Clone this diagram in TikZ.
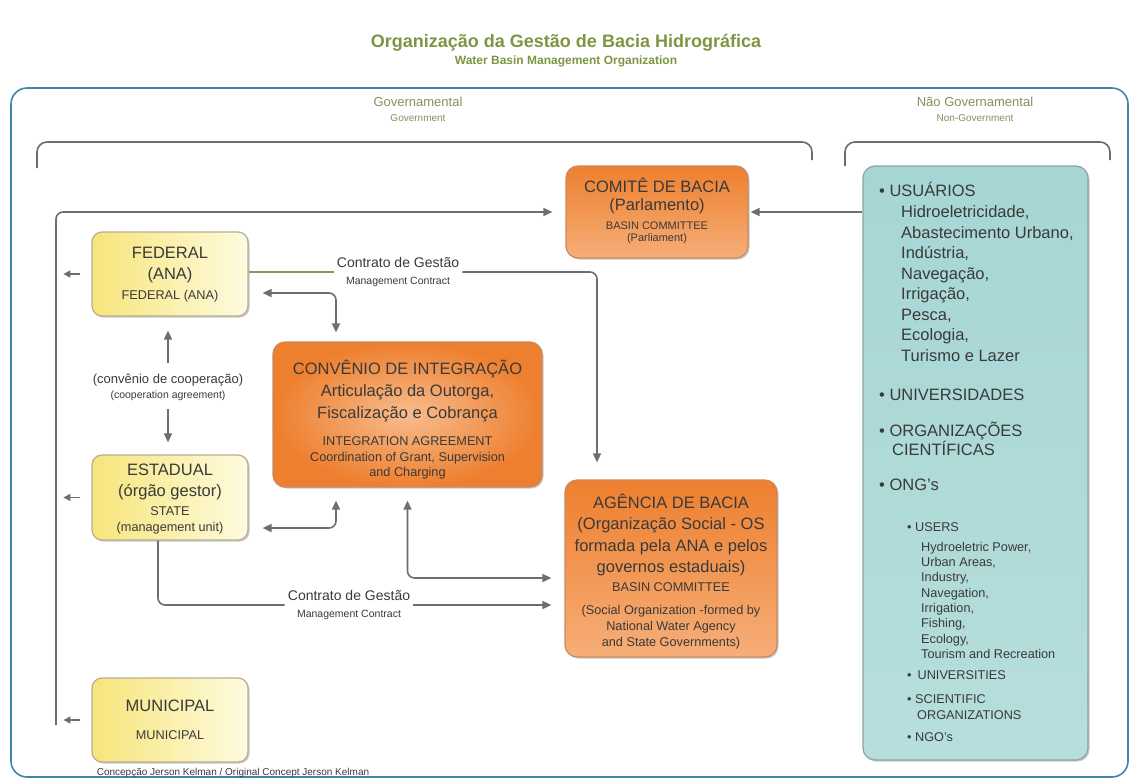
\documentclass[tikz,border=0pt]{standalone}
\usepackage{fontspec}
\setmainfont{Liberation Sans}
\usetikzlibrary{arrows.meta,shadows}

\definecolor{frameblue}{HTML}{3F86A8}
\definecolor{titlegreen}{HTML}{7E9543}
\definecolor{labelolive}{HTML}{8C8C62}
\definecolor{linegray}{HTML}{6E6E6E}
\definecolor{contractgreen}{HTML}{8A9A52}
\definecolor{ink}{HTML}{3A3A3A}
\definecolor{yelA}{HTML}{F7E57A}
\definecolor{yelB}{HTML}{FEFBE0}
\definecolor{yelEdge}{HTML}{B8AE90}
\definecolor{orgA}{HTML}{EE7F2E}
\definecolor{orgB}{HTML}{F6AE78}
\definecolor{orgMid}{HTML}{F8BC8E}
\definecolor{orgEdge}{HTML}{C98A60}
\definecolor{tealA}{HTML}{A6D6D4}
\definecolor{tealB}{HTML}{B6DEDC}
\definecolor{tealEdge}{HTML}{8FA1A1}

\newcommand{\fs}[2]{\fontsize{#1}{#2}\selectfont}

\begin{document}
\begin{tikzpicture}[x=1pt,y=-1pt,
  every node/.style={inner sep=0pt, text=ink},
  big/.style={anchor=base, font=\fs{16.5}{19}},
  sml/.style={anchor=base, font=\fs{12.7}{15}},
  tiny/.style={anchor=base, font=\fs{11}{13}},
  boxshadow/.style={drop shadow={shadow xshift=1.5pt, shadow yshift=-1.5pt, opacity=.3, fill=black!70}},
  ybox/.style={draw=yelEdge, line width=1.2pt, rounded corners=10pt,
    left color=yelA, right color=yelB, minimum width=156pt, minimum height=84pt, boxshadow},
  obox/.style={draw=orgEdge, line width=1.2pt, rounded corners=12pt, boxshadow},
  tbox/.style={draw=tealEdge, line width=1.2pt, rounded corners=12pt,
    top color=tealA, bottom color=tealB, boxshadow},
  flow/.style={draw=linegray, line width=1.6pt, rounded corners=7pt,
    -{Triangle[length=9pt,width=8pt]}},
  both/.style={draw=linegray, line width=1.6pt, rounded corners=7pt,
    {Triangle[length=9pt,width=8pt]}-{Triangle[length=9pt,width=8pt]}},
  plain/.style={draw=linegray, line width=1.6pt, rounded corners=7pt},
  leftout/.style={draw=linegray, line width=1.4pt, -{Triangle[length=7pt,width=7pt]}},
  bracket/.style={draw=gray!85!black, line width=1.6pt, rounded corners=10pt},
  clabel/.style={anchor=base, font=\fs{14}{16}, inner xsep=3pt},
  clabelsm/.style={anchor=base, font=\fs{10.5}{12}},
]
\useasboundingbox (0,0) rectangle (1132,780);
\fill[white] (0,0) rectangle (1132,780);

% headings
\node[font=\bfseries\fs{18}{20}, text=titlegreen] (title) at (566,43) {Organização da Gestão de Bacia Hidrográfica};
\node[font=\bfseries\fs{12}{14}, text=titlegreen] (subtitle) at (566,61) {Water Basin Management Organization};

% outer frame
\draw[frameblue, line width=1.6pt, rounded corners=16pt] (11,88) rectangle (1128,777);

% sector labels and brackets
\node[font=\fs{13}{15}, text=labelolive] (gov) at (418,102) {Governamental};
\node[font=\fs{10}{12}, text=labelolive] (govEn) at (418,118) {Government};
\node[font=\fs{13}{15}, text=labelolive] (ngov) at (975,102) {Não Governamental};
\node[font=\fs{10}{12}, text=labelolive] (ngovEn) at (975,118) {Non-Government};
\draw[bracket] (37,168) -- (37,142) -- (812,142) -- (812,160);
\draw[bracket] (845,166) -- (845,142) -- (1110,142) -- (1110,160);

% boxes
\node[obox, top color=orgA, bottom color=orgB, minimum width=182pt, minimum height=92pt] (comite) at (657,212) {};
\node[tbox, minimum width=225pt, minimum height=594pt] (users) at (975.5,463) {};
\node[ybox] (fed) at (170,274) {};
\node[ybox, minimum height=85pt] (est) at (170,497.5) {};
\node[ybox] (mun) at (170,720) {};
\node[obox, inner color=orgMid, outer color=orgA, minimum width=269pt, minimum height=145pt] (conv) at (407.5,414.5) {};
\node[obox, top color=orgA, bottom color=orgB, minimum width=212pt, minimum height=177pt] (age) at (671,568.5) {};

% texts of the basin committee
\node[big] (comT1) at (657,192) {COMITÊ DE BACIA};
\node[big] (comT2) at (657,210) {(Parlamento)};
\node[tiny] (comT3) at (657,229) {BASIN COMMITTEE};
\node[tiny] (comT4) at (657,241) {(Parliament)};

% texts of the government boxes
\node[big] (fedT1) at (170,258) {FEDERAL};
\node[big] (fedT2) at (170,279) {(ANA)};
\node[sml] (fedT3) at (170,299) {FEDERAL (ANA)};
\node[big] (estT1) at (170,475) {ESTADUAL};
\node[big] (estT2) at (170,496) {(órgão gestor)};
\node[sml] (estT3) at (170,515) {STATE};
\node[sml] (estT4) at (170,531) {(management unit)};
\node[big] (munT1) at (170,711) {MUNICIPAL};
\node[sml] (munT2) at (170,739) {MUNICIPAL};

% texts of the integration agreement
\node[big] (convT1) at (407.5,374) {CONVÊNIO DE INTEGRAÇÃO};
\node[big] (convT2) at (407.5,396) {Articulação da Outorga,};
\node[big] (convT3) at (407.5,418) {Fiscalização e Cobrança};
\node[sml] (convT4) at (407.5,445) {INTEGRATION AGREEMENT};
\node[sml] (convT5) at (407.5,461) {Coordination of Grant, Supervision};
\node[sml] (convT6) at (407.5,476) {and Charging};

% texts of the basin agency
\node[big] (ageT1) at (671,508) {AGÊNCIA DE BACIA};
\node[big] (ageT2) at (671,529) {(Organização Social - OS};
\node[big] (ageT3) at (671,551) {formada pela ANA e pelos};
\node[big] (ageT4) at (671,572) {governos estaduais)};
\node[sml] (ageT5) at (671,591) {BASIN COMMITTEE};
\node[sml] (ageT6) at (671,614) {(Social Organization -formed by};
\node[sml] (ageT7) at (671,630) {National Water Agency};
\node[sml] (ageT8) at (671,646) {and State Governments)};

% non-government list
\node[big, anchor=base west] (usrHead) at (879,196) {• USUÁRIOS};
\foreach \t [count=\i] in {{Hidroeletricidade,},{Abastecimento Urbano,},{Indústria,},{Navegação,},{Irrigação,},{Pesca,},{Ecologia,},{Turismo e Lazer}}
  \node[big, anchor=base west] (usr\i) at (901,197+20.5*\i) {\t};
\node[big, anchor=base west] (univ) at (879,400) {• UNIVERSIDADES};
\node[big, anchor=base west] (orgA) at (879,436) {• ORGANIZAÇÕES};
\node[big, anchor=base west] (orgB) at (892,455) {CIENTÍFICAS};
\node[big, anchor=base west] (ong) at (879,490) {• ONG's};
\node[sml, anchor=base west] (usersEn) at (907,531) {• USERS};
\foreach \t [count=\i] in {{Hydroeletric Power,},{Urban Areas,},{Industry,},{Navegation,},{Irrigation,},{Fishing,},{Ecology,},{Tourism and Recreation}}
  \node[sml, anchor=base west] (use\i) at (921,536+15.3*\i) {\t};
\node[sml, anchor=base west] (univEn) at (907,679) {•\hspace{6pt}UNIVERSITIES};
\node[sml, anchor=base west] (sciA) at (907,703) {• SCIENTIFIC};
\node[sml, anchor=base west] (sciB) at (917,719) {ORGANIZATIONS};
\node[sml, anchor=base west] (ngo) at (907,741) {• NGO's};

% cooperation agreement between federal and state levels
\node[font=\fs{13}{15}] (coop1) at (168,380) {(convênio de cooperação)};
\node[font=\fs{10.5}{12}] (coop2) at (168,396) {(cooperation agreement)};
\draw[flow] ([shift={(-2,46)}]fed.south) -- ([shift={(-2,14)}]fed.south);
\draw[flow] ([shift={(-2,-45)}]est.north) -- ([shift={(-2,-12)}]est.north);

% management contracts
\node[clabel] (ctA) at (398,267) {Contrato de Gestão};
\node[clabelsm] (ctB) at (398,284) {Management Contract};
\coordinate (fedOut) at ([shift={(0,-2)}]fed.east);
\draw[contractgreen, line width=1.6pt] (fedOut) -- (ctA.west |- fedOut);
\draw[flow] (ctA.east |- fedOut) -| ([shift={(-74,-17)}]age.north);

\coordinate (lowTip) at ([shift={(-13,36.5)}]age.west);
\node[clabel] (cbA) at (349,600) {Contrato de Gestão};
\node[clabelsm] (cbB) at (349,617) {Management Contract};
\draw[plain] ([shift={(-12,0)}]est.south) |- (cbA.west |- lowTip);
\draw[flow] (cbA.east |- lowTip) -- (lowTip);

% integration agreement links
\draw[both] ([shift={(14,19)}]fed.east) -| ([shift={(-71.5,-9)}]conv.north);
\draw[both] ([shift={(14,30.5)}]est.east) -| ([shift={(-71.5,13)}]conv.south);
\draw[both] ([shift={(0,13)}]conv.south) |- ([shift={(-13,9.5)}]age.west);

% links to the basin committee
\coordinate (leftFoot) at (56,725);
\draw[flow, shorten >=13pt] (leftFoot) |- (comite.west);
\draw[flow, shorten >=2pt] (users.west |- comite.east) -- (comite.east);

% outward arrows of the government levels
\draw[leftout] ([shift={(-11,0)}]fed.west) -- ([shift={(-28,0)}]fed.west);
\draw[leftout] ([shift={(-11,0)}]est.west) -- ([shift={(-28,0)}]est.west);
\draw[leftout] ([shift={(-11,0)}]mun.west) -- ([shift={(-28,0)}]mun.west);

% credit line
\node[font=\fs{10}{12}] (credit) at (233,773) {Concepção Jerson Kelman / Original Concept Jerson Kelman};
\end{tikzpicture}
\end{document}
